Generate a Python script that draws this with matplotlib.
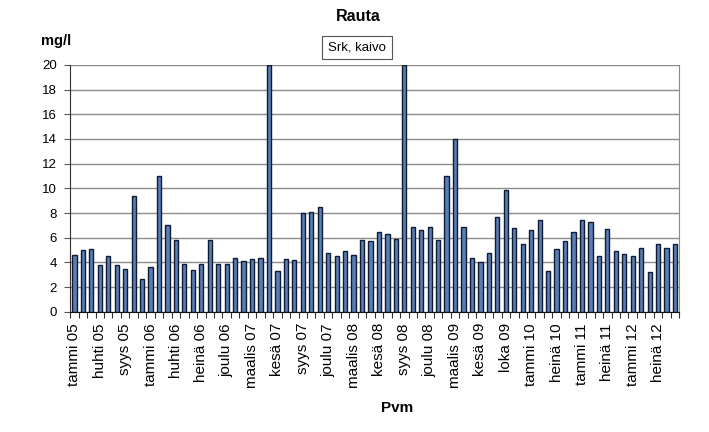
import matplotlib
matplotlib.use("Agg")
import matplotlib.pyplot as plt
import numpy as np

plt.rcParams['font.family'] = ['Liberation Sans', 'DejaVu Sans']

values = [4.6, 5.0, 5.1, 3.8, 4.5, 3.8, 3.5, 9.4, 2.7, 3.6,
          11.0, 7.0, 5.8, 3.9, 3.4, 3.9, 5.8, 3.9, 3.9, 4.4,
          4.1, 4.3, 4.4, 20.0, 3.3, 4.3, 4.2, 8.0, 8.1, 8.5,
          4.8, 4.5, 4.9, 4.6, 5.8, 5.7, 6.5, 6.3, 5.9, 20.0,
          6.9, 6.6, 6.9, 5.8, 11.0, 14.0, 6.9, 4.4, 4.0, 4.8,
          7.7, 9.9, 6.8, 5.5, 6.6, 7.4, 3.3, 5.1, 5.7, 6.5,
          7.4, 7.3, 4.5, 6.7, 4.9, 4.7, 4.5, 5.2, 3.2, 5.5,
          5.2, 5.5]

tick_labels = ["tammi 05", "huhti 05", "syys 05", "tammi 06", "huhti 06", "heinä 06",
               "joulu 06", "maalis 07", "kesä 07", "syys 07", "joulu 07", "maalis 08",
               "kesä 08", "syys 08", "joulu 08", "maalis 09", "kesä 09", "loka 09",
               "tammi 10", "heinä 10", "tammi 11", "heinä 11", "tammi 12", "heinä 12"]

series_name = "Srk, kaivo"
y_ticks = list(range(0, 21, 2))

fig = plt.figure(figsize=(7.09, 4.32), dpi=100)
ax = fig.add_axes([0.099, 0.278, 0.859, 0.572])

x = np.arange(len(values))
ax.bar(x, values, width=0.5, color='#5A7EB4', edgecolor='#0F1A33', linewidth=1.0, zorder=3)

ax.set_xlim(-0.5, len(values) - 0.5)
ax.set_ylim(0, 20)
ax.set_yticks(y_ticks)
ax.yaxis.grid(True, color='#8C8C8C', linewidth=1.0, zorder=0)

step = len(values) // len(tick_labels)
ax.set_xticks(np.arange(0, len(values), step))
ax.set_xticklabels(tick_labels, rotation=90, fontsize=11)
ax.set_xticks(np.arange(-0.5, len(values), 1.0), minor=True)
ax.tick_params(axis='x', which='major', length=0, pad=8)
ax.tick_params(axis='x', which='minor', length=4, width=0.8, color='#333333')
ax.tick_params(axis='y', length=4.5, width=0.8, color='#555555', labelsize=9.5, pad=5)

ax.spines['top'].set_visible(False)
ax.spines['right'].set_color('#8C8C8C')
ax.spines['left'].set_color('#333333')
ax.spines['bottom'].set_color('#111111')

fig.text(0.505, 0.962, "Rauta", ha='center', va='center', fontsize=11.5, fontweight='bold')
fig.text(0.079, 0.905, "mg/l", ha='center', va='center', fontsize=10.5, fontweight='bold')
fig.text(0.56, 0.056, "Pvm", ha='center', va='center', fontsize=11, fontweight='bold')
fig.text(0.504, 0.89, series_name, ha='center', va='center', fontsize=9.5,
         bbox=dict(boxstyle='square,pad=0.45', facecolor='white', edgecolor='#555555', linewidth=0.8))

fig.savefig("out.png", dpi=100)
